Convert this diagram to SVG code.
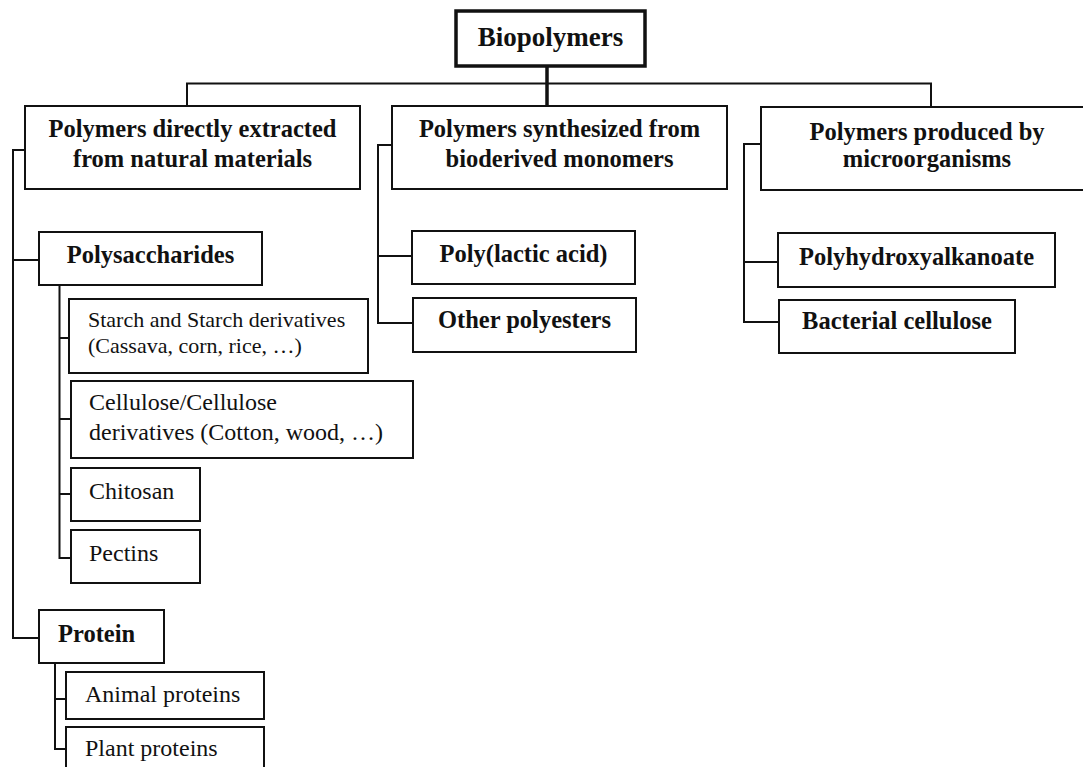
<svg xmlns="http://www.w3.org/2000/svg" width="1083" height="767" viewBox="0 0 1083 767">
<style>
rect{fill:#fff;stroke:#111;stroke-width:2}
.thick{stroke-width:3.5}
.b{font-family:"Liberation Serif","Times New Roman",serif;font-weight:bold;font-size:24.5px;fill:#111}
.r{font-family:"Liberation Serif","Times New Roman",serif;font-size:24px;fill:#111}
.c{text-anchor:middle}
#connectors path{fill:none;stroke:#111;stroke-width:2}
#connectors .tk{stroke-width:3.5}
</style>
<rect x="0" y="0" width="1083" height="767" style="fill:#fff;stroke:none"/>
<g id="connectors">
<path class="tk" d="M547,66 V106"/>
<path d="M187,106 V83.5 H931 V107"/>
<path d="M25,150 H13 V638 H39"/>
<path d="M13,260 H39"/>
<path d="M59.5,285 V558 H71"/>
<path d="M59.5,338 H69"/>
<path d="M59.5,419 H71"/>
<path d="M59.5,494 H71"/>
<path d="M55,663 V749 H66"/>
<path d="M55,699 H66"/>
<path d="M392,145 H378 V323 H413"/>
<path d="M378,256 H412"/>
<path d="M761,144 H744 V322 H779"/>
<path d="M744,262 H778"/>
</g>
<g id="n-biopolymers"><rect class="thick" x="456" y="11" width="189" height="55"/><text class="b c" x="550.5" y="46" style="font-size:27px">Biopolymers</text></g>
<g id="n-natural"><rect x="25" y="106" width="335" height="83"/><text class="b c" x="192.5" y="137">Polymers directly extracted</text><text class="b c" x="192.5" y="167">from natural materials</text></g>
<g id="n-synth"><rect x="392" y="106" width="335" height="83"/><text class="b c" x="559.5" y="137">Polymers synthesized from</text><text class="b c" x="559.5" y="167">bioderived monomers</text></g>
<g id="n-micro"><rect x="761" y="107" width="332" height="83"/><text class="b c" x="927" y="140">Polymers produced by</text><text class="b c" x="927" y="167">microorganisms</text></g>
<g id="n-polysaccharides"><rect x="39" y="232" width="223" height="53"/><text class="b c" x="150.5" y="263">Polysaccharides</text></g>
<g id="n-starch"><rect x="69" y="299" width="299" height="74"/><text class="r" x="88" y="327" style="font-size:22px">Starch and Starch derivatives</text><text class="r" x="88" y="353" style="font-size:22px">(Cassava, corn, rice, …)</text></g>
<g id="n-cellulose"><rect x="71" y="381" width="342" height="77"/><text class="r" x="89" y="410">Cellulose/Cellulose</text><text class="r" x="89" y="440">derivatives (Cotton, wood, …)</text></g>
<g id="n-chitosan"><rect x="71" y="468" width="129" height="53"/><text class="r" x="89" y="499">Chitosan</text></g>
<g id="n-pectins"><rect x="71" y="530" width="129" height="53"/><text class="r" x="89" y="561">Pectins</text></g>
<g id="n-protein"><rect x="39" y="610" width="125" height="53"/><text class="b" x="58" y="642">Protein</text></g>
<g id="n-animal"><rect x="66" y="672" width="198" height="47"/><text class="r" x="85" y="702">Animal proteins</text></g>
<g id="n-plant"><rect x="66" y="727" width="198" height="60"/><text class="r" x="85" y="756">Plant proteins</text></g>
<g id="n-pla"><rect x="412" y="231" width="223" height="53"/><text class="b c" x="523.5" y="262">Poly(lactic acid)</text></g>
<g id="n-other"><rect x="413" y="298" width="223" height="54"/><text class="b c" x="524.5" y="328">Other polyesters</text></g>
<g id="n-pha"><rect x="778" y="233" width="277" height="54"/><text class="b c" x="916.5" y="265">Polyhydroxyalkanoate</text></g>
<g id="n-bc"><rect x="779" y="300" width="236" height="53"/><text class="b c" x="897" y="329">Bacterial cellulose</text></g>
</svg>
